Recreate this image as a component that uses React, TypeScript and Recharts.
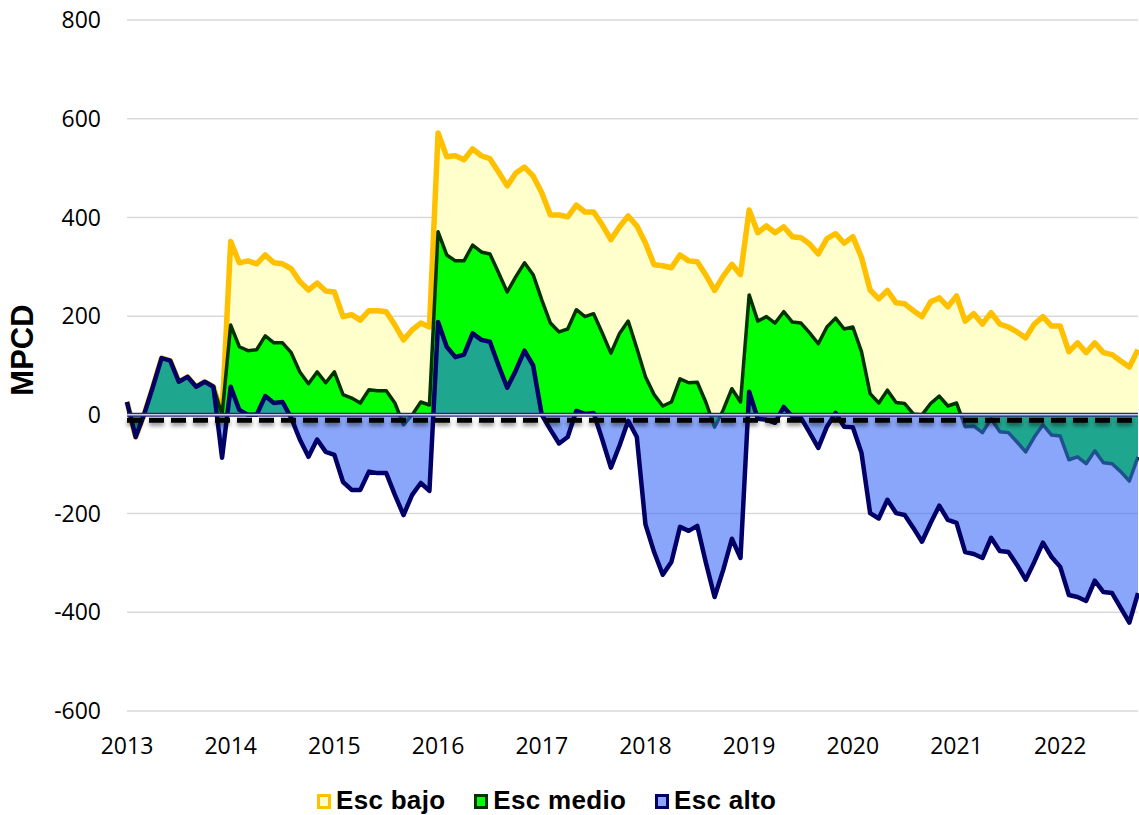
import React from 'react'
import { AreaChart, Area, XAxis, YAxis, CartesianGrid, ReferenceLine, Legend } from 'recharts'

// monthly series, Jan 2013 .. Oct 2022 (118 points)
const years = ['2013', '2014', '2015', '2016', '2017', '2018', '2019', '2020', '2021', '2022']
const monthNums = ['01', '02', '03', '04', '05', '06', '07', '08', '09', '10', '11', '12']
const periods = years.flatMap((y) => monthNums.map((m) => `${y}-${m}`)).slice(0, 118)

const escBajo = [
  26, -45, 2, 57, 115, 110, 67, 77, 57, 67, 57, 0,
  351, 308, 312, 306, 324, 308, 306, 296, 270, 253, 267, 251,
  249, 199, 203, 192, 211, 211, 209, 182, 152, 172, 186, 178,
  571, 523, 525, 517, 539, 525, 519, 492, 464, 490, 502, 484,
  450, 405, 405, 401, 425, 411, 411, 385, 355, 381, 403, 383,
  348, 304, 302, 298, 324, 312, 310, 283, 252, 281, 305, 284,
  415, 369, 383, 369, 381, 361, 359, 346, 326, 357, 367, 348,
  361, 319, 253, 235, 252, 227, 225, 211, 199, 229, 237, 219,
  241, 190, 205, 184, 207, 184, 178, 168, 156, 184, 199, 180,
  180, 128, 146, 126, 146, 126, 122, 109, 97, 132,
]

const escMedio = [
  26, -45, 2, 57, 115, 110, 67, 77, 57, 67, 57, 0,
  182, 138, 130, 132, 160, 146, 146, 126, 87, 63, 87, 65,
  87, 41, 34, 24, 51, 49, 49, 24, -20, 0, 26, 20,
  371, 324, 312, 312, 344, 330, 326, 288, 249, 280, 308, 284,
  233, 186, 168, 174, 213, 199, 205, 166, 125, 165, 190, 135,
  77, 41, 18, 26, 73, 65, 66, 25, -25, 10, 53, 26,
  243, 190, 199, 186, 209, 188, 186, 166, 144, 178, 196, 174,
  178, 128, 43, 24, 50, 25, 23, 2, 0, 23, 38, 18,
  24, -24, -23, -36, -8, -34, -36, -55, -75, -45, -20, -41,
  -43, -91, -85, -99, -73, -97, -99, -115, -134, -85,
]

const escAlto = [
  26, -45, 2, 57, 115, 110, 67, 77, 57, 67, 57, -87,
  57, 10, 0, 0, 38, 24, 26, -6, -50, -85, -50, -75,
  -81, -136, -152, -152, -115, -118, -118, -162, -203, -162, -138, -154,
  188, 138, 117, 122, 165, 152, 148, 100, 55, 90, 130, 100,
  0, -30, -58, -45, 8, 2, 4, -50, -107, -62, -12, -45,
  -222, -278, -324, -298, -227, -235, -225, -300, -369, -314, -251, -290,
  47, -8, -10, -16, 16, -4, -6, -36, -67, -24, 4, -24,
  -25, -77, -199, -210, -172, -199, -203, -229, -257, -219, -184, -213,
  -219, -278, -282, -290, -249, -276, -278, -304, -334, -298, -259, -288,
  -308, -365, -369, -377, -336, -359, -361, -391, -421, -361,
]

const yTicks = [-600, -400, -200, 0, 200, 400, 600, 800]
const umbral = -11

const data = periods.map((p, i) => ({
  period: p,
  bajo: escBajo[i],
  medio: escMedio[i],
  alto: escAlto[i],
}))

const legendItems = [
  { name: 'Esc bajo', border: '#FFC000', fill: '#FFFFCC' },
  { name: 'Esc medio', border: '#003300', fill: '#00FF00' },
  { name: 'Esc alto', border: '#000066', fill: '#8AA6F8' },
]

const tickFont = { fontFamily: '"Open Sans", sans-serif', fontSize: 23, fill: '#000' }

function ChartLegend() {
  return (
    <div style={{ display: 'flex', alignItems: 'center', height: 30, lineHeight: '30px' }}>
      {legendItems.map((it, i) => (
        <div key={it.name} style={{ display: 'flex', alignItems: 'center', marginLeft: i === 0 ? 0 : 29 }}>
          <span
            style={{
              display: 'inline-block',
              width: 8,
              height: 9,
              border: `3px solid ${it.border}`,
              background: it.fill,
              marginRight: 5,
              marginTop: 3,
            }}
          />
          <span
            style={{
              fontFamily: '"Liberation Sans", Arial, sans-serif',
              fontWeight: 'bold',
              fontSize: 26,
              letterSpacing: 0.3,
              color: '#000',
            }}
          >
            {it.name}
          </span>
        </div>
      ))}
    </div>
  )
}

export default function App() {
  return (
    <div style={{ position: 'absolute', left: 0, top: 0, width: 1139, height: 815, background: '#fff' }}>
      <AreaChart width={1139} height={815} data={data} margin={{ top: 20, right: 1, bottom: 54, left: 0 }}>
        <CartesianGrid vertical={false} stroke="#d9d9d9" strokeWidth={1.5} />
        <XAxis
          dataKey="period"
          interval={11}
          tickFormatter={(v: string) => v.slice(0, 4)}
          tick={tickFont}
          tickLine={false}
          axisLine={false}
          tickSize={0}
          tickMargin={27}
          height={50}
        />
        <YAxis
          domain={[-600, 800]}
          ticks={yTicks}
          tick={tickFont}
          tickLine={false}
          axisLine={false}
          tickSize={0}
          tickMargin={26}
          width={127}
          label={() => (
            <text
              x={22}
              y={350}
              transform="rotate(-90 22 350)"
              textAnchor="middle"
              dominantBaseline="central"
              style={{ fontFamily: '"Liberation Sans", Arial, sans-serif', fontWeight: 'bold', fontSize: 31, fill: '#000' }}
            >
              MPCD
            </text>
          )}
        />
        <Area
          type="linear"
          dataKey="bajo"
          baseValue={0}
          stroke="#FFC000"
          strokeWidth={5.5}
          strokeLinejoin="round"
          fill="#FFFFCC"
          fillOpacity={1}
          isAnimationActive={false}
          dot={false}
          activeDot={false}
        />
        <Area
          type="linear"
          dataKey="medio"
          baseValue={0}
          stroke="#003300"
          strokeWidth={3.5}
          strokeLinejoin="round"
          fill="#00FF00"
          fillOpacity={1}
          isAnimationActive={false}
          dot={false}
          activeDot={false}
        />
        <Area
          type="linear"
          dataKey="alto"
          baseValue={0}
          stroke="#000066"
          strokeWidth={4.5}
          strokeLinejoin="round"
          fill="rgb(53,102,246)"
          fillOpacity={0.58}
          isAnimationActive={false}
          dot={false}
          activeDot={false}
        />
        <ReferenceLine y={0} stroke="#2a2a7a" strokeWidth={4} />
        <ReferenceLine y={0} stroke="#c8c8f0" strokeWidth={1.5} />
        <ReferenceLine
          y={umbral}
          stroke="#000"
          strokeWidth={5}
          strokeDasharray="15 7"
          style={{ filter: 'drop-shadow(0px 3px 2px rgba(0,0,0,0.45))' }}
        />
        <Legend
          verticalAlign="middle"
          align="center"
          layout="horizontal"
          wrapperStyle={{ top: 785, left: 317, width: 520, height: 30 }}
          content={() => <ChartLegend />}
        />
      </AreaChart>
    </div>
  )
}
